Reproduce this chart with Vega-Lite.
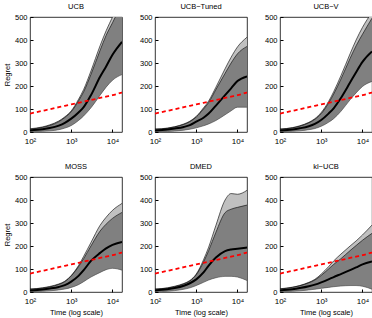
{
"$schema": "https://vega.github.io/schema/vega-lite/v6.json",
"padding": {"left": 3, "top": 2, "right": 0, "bottom": 2},
"datasets": {"d": [
{"algo":"UCB","t":100,"low":1,"q":12,"hi":14,"med":7,"lb":80},
{"algo":"UCB","t":200,"low":3,"q":20,"hi":22,"med":12,"lb":92},
{"algo":"UCB","t":300,"low":5,"q":28,"hi":31,"med":17,"lb":99},
{"algo":"UCB","t":500,"low":10,"q":45,"hi":48,"med":28,"lb":108},
{"algo":"UCB","t":700,"low":17,"q":63,"hi":66,"med":40,"lb":114},
{"algo":"UCB","t":1000,"low":28,"q":88,"hi":92,"med":58,"lb":120},
{"algo":"UCB","t":1500,"low":50,"q":135,"hi":142,"med":85,"lb":127},
{"algo":"UCB","t":2000,"low":70,"q":175,"hi":185,"med":108,"lb":132},
{"algo":"UCB","t":3000,"low":105,"q":250,"hi":265,"med":160,"lb":139},
{"algo":"UCB","t":5000,"low":160,"q":355,"hi":375,"med":240,"lb":148},
{"algo":"UCB","t":7000,"low":195,"q":420,"hi":440,"med":285,"lb":154},
{"algo":"UCB","t":10000,"low":225,"q":475,"hi":500,"med":336,"lb":160},
{"algo":"UCB","t":17000,"low":250,"q":560,"hi":590,"med":392,"lb":172},
{"algo":"UCB−Tuned","t":100,"low":1,"q":12,"hi":13,"med":7,"lb":80},
{"algo":"UCB−Tuned","t":200,"low":2,"q":16,"hi":17,"med":11,"lb":92},
{"algo":"UCB−Tuned","t":300,"low":4,"q":22,"hi":23,"med":15,"lb":99},
{"algo":"UCB−Tuned","t":500,"low":8,"q":33,"hi":35,"med":22,"lb":108},
{"algo":"UCB−Tuned","t":700,"low":12,"q":45,"hi":47,"med":30,"lb":114},
{"algo":"UCB−Tuned","t":1000,"low":18,"q":65,"hi":68,"med":45,"lb":120},
{"algo":"UCB−Tuned","t":1500,"low":27,"q":100,"hi":105,"med":62,"lb":127},
{"algo":"UCB−Tuned","t":2000,"low":35,"q":128,"hi":135,"med":80,"lb":132},
{"algo":"UCB−Tuned","t":3000,"low":50,"q":185,"hi":195,"med":115,"lb":139},
{"algo":"UCB−Tuned","t":5000,"low":75,"q":255,"hi":275,"med":160,"lb":148},
{"algo":"UCB−Tuned","t":7000,"low":92,"q":300,"hi":325,"med":190,"lb":154},
{"algo":"UCB−Tuned","t":10000,"low":108,"q":340,"hi":370,"med":222,"lb":160},
{"algo":"UCB−Tuned","t":17000,"low":108,"q":372,"hi":412,"med":242,"lb":172},
{"algo":"UCB−V","t":100,"low":1,"q":12,"hi":13,"med":7,"lb":80},
{"algo":"UCB−V","t":200,"low":3,"q":18,"hi":19,"med":11,"lb":92},
{"algo":"UCB−V","t":300,"low":5,"q":25,"hi":27,"med":16,"lb":99},
{"algo":"UCB−V","t":500,"low":10,"q":40,"hi":42,"med":25,"lb":108},
{"algo":"UCB−V","t":700,"low":15,"q":55,"hi":58,"med":35,"lb":114},
{"algo":"UCB−V","t":1000,"low":25,"q":80,"hi":85,"med":52,"lb":120},
{"algo":"UCB−V","t":1500,"low":42,"q":125,"hi":132,"med":80,"lb":127},
{"algo":"UCB−V","t":2000,"low":58,"q":165,"hi":175,"med":103,"lb":132},
{"algo":"UCB−V","t":3000,"low":90,"q":230,"hi":245,"med":148,"lb":139},
{"algo":"UCB−V","t":5000,"low":140,"q":320,"hi":340,"med":215,"lb":148},
{"algo":"UCB−V","t":7000,"low":170,"q":375,"hi":400,"med":260,"lb":154},
{"algo":"UCB−V","t":10000,"low":198,"q":425,"hi":455,"med":305,"lb":160},
{"algo":"UCB−V","t":17000,"low":220,"q":495,"hi":520,"med":350,"lb":172},
{"algo":"MOSS","t":100,"low":1,"q":12,"hi":13,"med":7,"lb":80},
{"algo":"MOSS","t":200,"low":3,"q":17,"hi":18,"med":11,"lb":92},
{"algo":"MOSS","t":300,"low":5,"q":22,"hi":24,"med":15,"lb":99},
{"algo":"MOSS","t":500,"low":9,"q":33,"hi":35,"med":22,"lb":108},
{"algo":"MOSS","t":700,"low":13,"q":45,"hi":47,"med":30,"lb":114},
{"algo":"MOSS","t":1000,"low":20,"q":70,"hi":72,"med":45,"lb":120},
{"algo":"MOSS","t":1500,"low":32,"q":110,"hi":115,"med":70,"lb":127},
{"algo":"MOSS","t":2000,"low":45,"q":145,"hi":155,"med":95,"lb":132},
{"algo":"MOSS","t":3000,"low":65,"q":200,"hi":215,"med":135,"lb":139},
{"algo":"MOSS","t":5000,"low":85,"q":265,"hi":290,"med":170,"lb":148},
{"algo":"MOSS","t":7000,"low":97,"q":295,"hi":325,"med":190,"lb":154},
{"algo":"MOSS","t":10000,"low":103,"q":320,"hi":355,"med":205,"lb":160},
{"algo":"MOSS","t":17000,"low":95,"q":346,"hi":385,"med":218,"lb":172},
{"algo":"DMED","t":100,"low":1,"q":12,"hi":13,"med":7,"lb":80},
{"algo":"DMED","t":200,"low":3,"q":17,"hi":18,"med":12,"lb":92},
{"algo":"DMED","t":300,"low":6,"q":23,"hi":25,"med":17,"lb":99},
{"algo":"DMED","t":500,"low":12,"q":35,"hi":37,"med":27,"lb":108},
{"algo":"DMED","t":700,"low":18,"q":48,"hi":50,"med":38,"lb":114},
{"algo":"DMED","t":1000,"low":28,"q":75,"hi":78,"med":55,"lb":120},
{"algo":"DMED","t":1500,"low":42,"q":130,"hi":140,"med":85,"lb":127},
{"algo":"DMED","t":2000,"low":52,"q":180,"hi":195,"med":115,"lb":132},
{"algo":"DMED","t":3000,"low":62,"q":260,"hi":290,"med":150,"lb":139},
{"algo":"DMED","t":5000,"low":68,"q":345,"hi":400,"med":178,"lb":148},
{"algo":"DMED","t":7000,"low":68,"q":360,"hi":428,"med":185,"lb":154},
{"algo":"DMED","t":10000,"low":65,"q":368,"hi":425,"med":188,"lb":160},
{"algo":"DMED","t":17000,"low":50,"q":378,"hi":442,"med":193,"lb":172},
{"algo":"kl−UCB","t":100,"low":1,"q":13,"hi":14,"med":7,"lb":80},
{"algo":"kl−UCB","t":200,"low":3,"q":20,"hi":21,"med":12,"lb":92},
{"algo":"kl−UCB","t":300,"low":5,"q":27,"hi":28,"med":17,"lb":99},
{"algo":"kl−UCB","t":500,"low":9,"q":40,"hi":42,"med":25,"lb":108},
{"algo":"kl−UCB","t":700,"low":12,"q":52,"hi":55,"med":32,"lb":114},
{"algo":"kl−UCB","t":1000,"low":16,"q":72,"hi":78,"med":42,"lb":120},
{"algo":"kl−UCB","t":1500,"low":20,"q":100,"hi":110,"med":55,"lb":127},
{"algo":"kl−UCB","t":2000,"low":23,"q":120,"hi":135,"med":65,"lb":132},
{"algo":"kl−UCB","t":3000,"low":26,"q":145,"hi":165,"med":78,"lb":139},
{"algo":"kl−UCB","t":5000,"low":28,"q":180,"hi":200,"med":95,"lb":148},
{"algo":"kl−UCB","t":7000,"low":28,"q":202,"hi":222,"med":107,"lb":154},
{"algo":"kl−UCB","t":10000,"low":25,"q":225,"hi":248,"med":120,"lb":160},
{"algo":"kl−UCB","t":17000,"low":12,"q":255,"hi":291,"med":133,"lb":172}
]},
"columns": 3,
"spacing": {"row": 16, "column": 16},
"concat": [
{"title": "UCB", "width": 92, "height": 115, "data": {"name": "d"},
 "transform": [{"filter": "datum.algo === 'UCB'"}],
 "encoding": {"x": {"field": "t", "type": "quantitative", "title": null, "scale": {"type": "log", "domain": [100, 17000], "nice": false}, "axis": {"values": [100, 1000, 10000], "labelExpr": "datum.value == 100 ? '10²' : datum.value == 1000 ? '10³' : '10⁴'", "labelFlush": false}}},
 "layer": [
  {"mark": {"type": "area", "color": "#c0c0c0", "clip": true, "interpolate": "monotone"}, "encoding": {"y": {"field": "low", "type": "quantitative", "title": "Regret", "scale": {"domain": [0, 500]}}, "y2": {"field": "hi"}}},
  {"mark": {"type": "area", "color": "#808080", "clip": true, "interpolate": "monotone"}, "encoding": {"y": {"field": "low", "type": "quantitative", "title": "Regret"}, "y2": {"field": "q"}}},
  {"mark": {"type": "line", "color": "black", "strokeWidth": 0.6, "clip": true, "interpolate": "monotone"}, "encoding": {"y": {"field": "hi", "type": "quantitative", "title": "Regret"}}},
  {"mark": {"type": "line", "color": "black", "strokeWidth": 0.6, "clip": true, "interpolate": "monotone"}, "encoding": {"y": {"field": "q", "type": "quantitative", "title": "Regret"}}},
  {"mark": {"type": "line", "color": "#444", "strokeWidth": 0.6, "clip": true, "interpolate": "monotone"}, "encoding": {"y": {"field": "low", "type": "quantitative", "title": "Regret"}}},
  {"mark": {"type": "line", "color": "black", "strokeWidth": 2, "clip": true, "interpolate": "monotone"}, "encoding": {"y": {"field": "med", "type": "quantitative", "title": "Regret"}}},
  {"mark": {"type": "line", "color": "#ff0000", "strokeWidth": 1.8, "strokeDash": [4, 3], "clip": true, "interpolate": "monotone"}, "encoding": {"y": {"field": "lb", "type": "quantitative", "title": "Regret"}}}
 ]},
{"title": "UCB−Tuned", "width": 92, "height": 115, "data": {"name": "d"},
 "transform": [{"filter": "datum.algo === 'UCB−Tuned'"}],
 "encoding": {"x": {"field": "t", "type": "quantitative", "title": null, "scale": {"type": "log", "domain": [100, 17000], "nice": false}, "axis": {"values": [100, 1000, 10000], "labelExpr": "datum.value == 100 ? '10²' : datum.value == 1000 ? '10³' : '10⁴'", "labelFlush": false}}},
 "layer": [
  {"mark": {"type": "area", "color": "#c0c0c0", "clip": true, "interpolate": "monotone"}, "encoding": {"y": {"field": "low", "type": "quantitative", "title": null, "scale": {"domain": [0, 500]}}, "y2": {"field": "hi"}}},
  {"mark": {"type": "area", "color": "#808080", "clip": true, "interpolate": "monotone"}, "encoding": {"y": {"field": "low", "type": "quantitative", "title": null}, "y2": {"field": "q"}}},
  {"mark": {"type": "line", "color": "black", "strokeWidth": 0.6, "clip": true, "interpolate": "monotone"}, "encoding": {"y": {"field": "hi", "type": "quantitative", "title": null}}},
  {"mark": {"type": "line", "color": "black", "strokeWidth": 0.6, "clip": true, "interpolate": "monotone"}, "encoding": {"y": {"field": "q", "type": "quantitative", "title": null}}},
  {"mark": {"type": "line", "color": "#444", "strokeWidth": 0.6, "clip": true, "interpolate": "monotone"}, "encoding": {"y": {"field": "low", "type": "quantitative", "title": null}}},
  {"mark": {"type": "line", "color": "black", "strokeWidth": 2, "clip": true, "interpolate": "monotone"}, "encoding": {"y": {"field": "med", "type": "quantitative", "title": null}}},
  {"mark": {"type": "line", "color": "#ff0000", "strokeWidth": 1.8, "strokeDash": [4, 3], "clip": true, "interpolate": "monotone"}, "encoding": {"y": {"field": "lb", "type": "quantitative", "title": null}}}
 ]},
{"title": "UCB−V", "width": 92, "height": 115, "data": {"name": "d"},
 "transform": [{"filter": "datum.algo === 'UCB−V'"}],
 "encoding": {"x": {"field": "t", "type": "quantitative", "title": null, "scale": {"type": "log", "domain": [100, 17000], "nice": false}, "axis": {"values": [100, 1000, 10000], "labelExpr": "datum.value == 100 ? '10²' : datum.value == 1000 ? '10³' : '10⁴'", "labelFlush": false}}},
 "layer": [
  {"mark": {"type": "area", "color": "#c0c0c0", "clip": true, "interpolate": "monotone"}, "encoding": {"y": {"field": "low", "type": "quantitative", "title": null, "scale": {"domain": [0, 500]}}, "y2": {"field": "hi"}}},
  {"mark": {"type": "area", "color": "#808080", "clip": true, "interpolate": "monotone"}, "encoding": {"y": {"field": "low", "type": "quantitative", "title": null}, "y2": {"field": "q"}}},
  {"mark": {"type": "line", "color": "black", "strokeWidth": 0.6, "clip": true, "interpolate": "monotone"}, "encoding": {"y": {"field": "hi", "type": "quantitative", "title": null}}},
  {"mark": {"type": "line", "color": "black", "strokeWidth": 0.6, "clip": true, "interpolate": "monotone"}, "encoding": {"y": {"field": "q", "type": "quantitative", "title": null}}},
  {"mark": {"type": "line", "color": "#444", "strokeWidth": 0.6, "clip": true, "interpolate": "monotone"}, "encoding": {"y": {"field": "low", "type": "quantitative", "title": null}}},
  {"mark": {"type": "line", "color": "black", "strokeWidth": 2, "clip": true, "interpolate": "monotone"}, "encoding": {"y": {"field": "med", "type": "quantitative", "title": null}}},
  {"mark": {"type": "line", "color": "#ff0000", "strokeWidth": 1.8, "strokeDash": [4, 3], "clip": true, "interpolate": "monotone"}, "encoding": {"y": {"field": "lb", "type": "quantitative", "title": null}}}
 ]},
{"title": "MOSS", "width": 92, "height": 115, "data": {"name": "d"},
 "transform": [{"filter": "datum.algo === 'MOSS'"}],
 "encoding": {"x": {"field": "t", "type": "quantitative", "title": "Time (log scale)", "scale": {"type": "log", "domain": [100, 17000], "nice": false}, "axis": {"values": [100, 1000, 10000], "labelExpr": "datum.value == 100 ? '10²' : datum.value == 1000 ? '10³' : '10⁴'", "labelFlush": false}}},
 "layer": [
  {"mark": {"type": "area", "color": "#c0c0c0", "clip": true, "interpolate": "monotone"}, "encoding": {"y": {"field": "low", "type": "quantitative", "title": "Regret", "scale": {"domain": [0, 500]}}, "y2": {"field": "hi"}}},
  {"mark": {"type": "area", "color": "#808080", "clip": true, "interpolate": "monotone"}, "encoding": {"y": {"field": "low", "type": "quantitative", "title": "Regret"}, "y2": {"field": "q"}}},
  {"mark": {"type": "line", "color": "black", "strokeWidth": 0.6, "clip": true, "interpolate": "monotone"}, "encoding": {"y": {"field": "hi", "type": "quantitative", "title": "Regret"}}},
  {"mark": {"type": "line", "color": "black", "strokeWidth": 0.6, "clip": true, "interpolate": "monotone"}, "encoding": {"y": {"field": "q", "type": "quantitative", "title": "Regret"}}},
  {"mark": {"type": "line", "color": "#444", "strokeWidth": 0.6, "clip": true, "interpolate": "monotone"}, "encoding": {"y": {"field": "low", "type": "quantitative", "title": "Regret"}}},
  {"mark": {"type": "line", "color": "black", "strokeWidth": 2, "clip": true, "interpolate": "monotone"}, "encoding": {"y": {"field": "med", "type": "quantitative", "title": "Regret"}}},
  {"mark": {"type": "line", "color": "#ff0000", "strokeWidth": 1.8, "strokeDash": [4, 3], "clip": true, "interpolate": "monotone"}, "encoding": {"y": {"field": "lb", "type": "quantitative", "title": "Regret"}}}
 ]},
{"title": "DMED", "width": 92, "height": 115, "data": {"name": "d"},
 "transform": [{"filter": "datum.algo === 'DMED'"}],
 "encoding": {"x": {"field": "t", "type": "quantitative", "title": "Time (log scale)", "scale": {"type": "log", "domain": [100, 17000], "nice": false}, "axis": {"values": [100, 1000, 10000], "labelExpr": "datum.value == 100 ? '10²' : datum.value == 1000 ? '10³' : '10⁴'", "labelFlush": false}}},
 "layer": [
  {"mark": {"type": "area", "color": "#c0c0c0", "clip": true, "interpolate": "monotone"}, "encoding": {"y": {"field": "low", "type": "quantitative", "title": null, "scale": {"domain": [0, 500]}}, "y2": {"field": "hi"}}},
  {"mark": {"type": "area", "color": "#808080", "clip": true, "interpolate": "monotone"}, "encoding": {"y": {"field": "low", "type": "quantitative", "title": null}, "y2": {"field": "q"}}},
  {"mark": {"type": "line", "color": "black", "strokeWidth": 0.6, "clip": true, "interpolate": "monotone"}, "encoding": {"y": {"field": "hi", "type": "quantitative", "title": null}}},
  {"mark": {"type": "line", "color": "black", "strokeWidth": 0.6, "clip": true, "interpolate": "monotone"}, "encoding": {"y": {"field": "q", "type": "quantitative", "title": null}}},
  {"mark": {"type": "line", "color": "#444", "strokeWidth": 0.6, "clip": true, "interpolate": "monotone"}, "encoding": {"y": {"field": "low", "type": "quantitative", "title": null}}},
  {"mark": {"type": "line", "color": "black", "strokeWidth": 2, "clip": true, "interpolate": "monotone"}, "encoding": {"y": {"field": "med", "type": "quantitative", "title": null}}},
  {"mark": {"type": "line", "color": "#ff0000", "strokeWidth": 1.8, "strokeDash": [4, 3], "clip": true, "interpolate": "monotone"}, "encoding": {"y": {"field": "lb", "type": "quantitative", "title": null}}}
 ]},
{"title": "kl−UCB", "width": 92, "height": 115, "data": {"name": "d"},
 "transform": [{"filter": "datum.algo === 'kl−UCB'"}],
 "encoding": {"x": {"field": "t", "type": "quantitative", "title": "Time (log scale)", "scale": {"type": "log", "domain": [100, 17000], "nice": false}, "axis": {"values": [100, 1000, 10000], "labelExpr": "datum.value == 100 ? '10²' : datum.value == 1000 ? '10³' : '10⁴'", "labelFlush": false}}},
 "layer": [
  {"mark": {"type": "area", "color": "#c0c0c0", "clip": true, "interpolate": "monotone"}, "encoding": {"y": {"field": "low", "type": "quantitative", "title": null, "scale": {"domain": [0, 500]}}, "y2": {"field": "hi"}}},
  {"mark": {"type": "area", "color": "#808080", "clip": true, "interpolate": "monotone"}, "encoding": {"y": {"field": "low", "type": "quantitative", "title": null}, "y2": {"field": "q"}}},
  {"mark": {"type": "line", "color": "black", "strokeWidth": 0.6, "clip": true, "interpolate": "monotone"}, "encoding": {"y": {"field": "hi", "type": "quantitative", "title": null}}},
  {"mark": {"type": "line", "color": "black", "strokeWidth": 0.6, "clip": true, "interpolate": "monotone"}, "encoding": {"y": {"field": "q", "type": "quantitative", "title": null}}},
  {"mark": {"type": "line", "color": "#444", "strokeWidth": 0.6, "clip": true, "interpolate": "monotone"}, "encoding": {"y": {"field": "low", "type": "quantitative", "title": null}}},
  {"mark": {"type": "line", "color": "black", "strokeWidth": 2, "clip": true, "interpolate": "monotone"}, "encoding": {"y": {"field": "med", "type": "quantitative", "title": null}}},
  {"mark": {"type": "line", "color": "#ff0000", "strokeWidth": 1.8, "strokeDash": [4, 3], "clip": true, "interpolate": "monotone"}, "encoding": {"y": {"field": "lb", "type": "quantitative", "title": null}}}
 ]}
],
"config": {
 "font": "Liberation Sans",
 "view": {"stroke": "black", "strokeWidth": 0.8},
 "axis": {"grid": false, "domain": false, "tickColor": "black", "tickSize": -3, "labelFontSize": 7.5, "labelColor": "black", "titleFontSize": 7.5, "titleFontWeight": "normal", "titleColor": "black", "labelPadding": 6, "titlePadding": 3},
 "axisX": {"labelFontSize": 8, "labelPadding": 8},
 "axisY": {"tickCount": 6},
 "title": {"fontSize": 7.5, "fontWeight": "normal", "offset": 3, "color": "black"}
}
}
